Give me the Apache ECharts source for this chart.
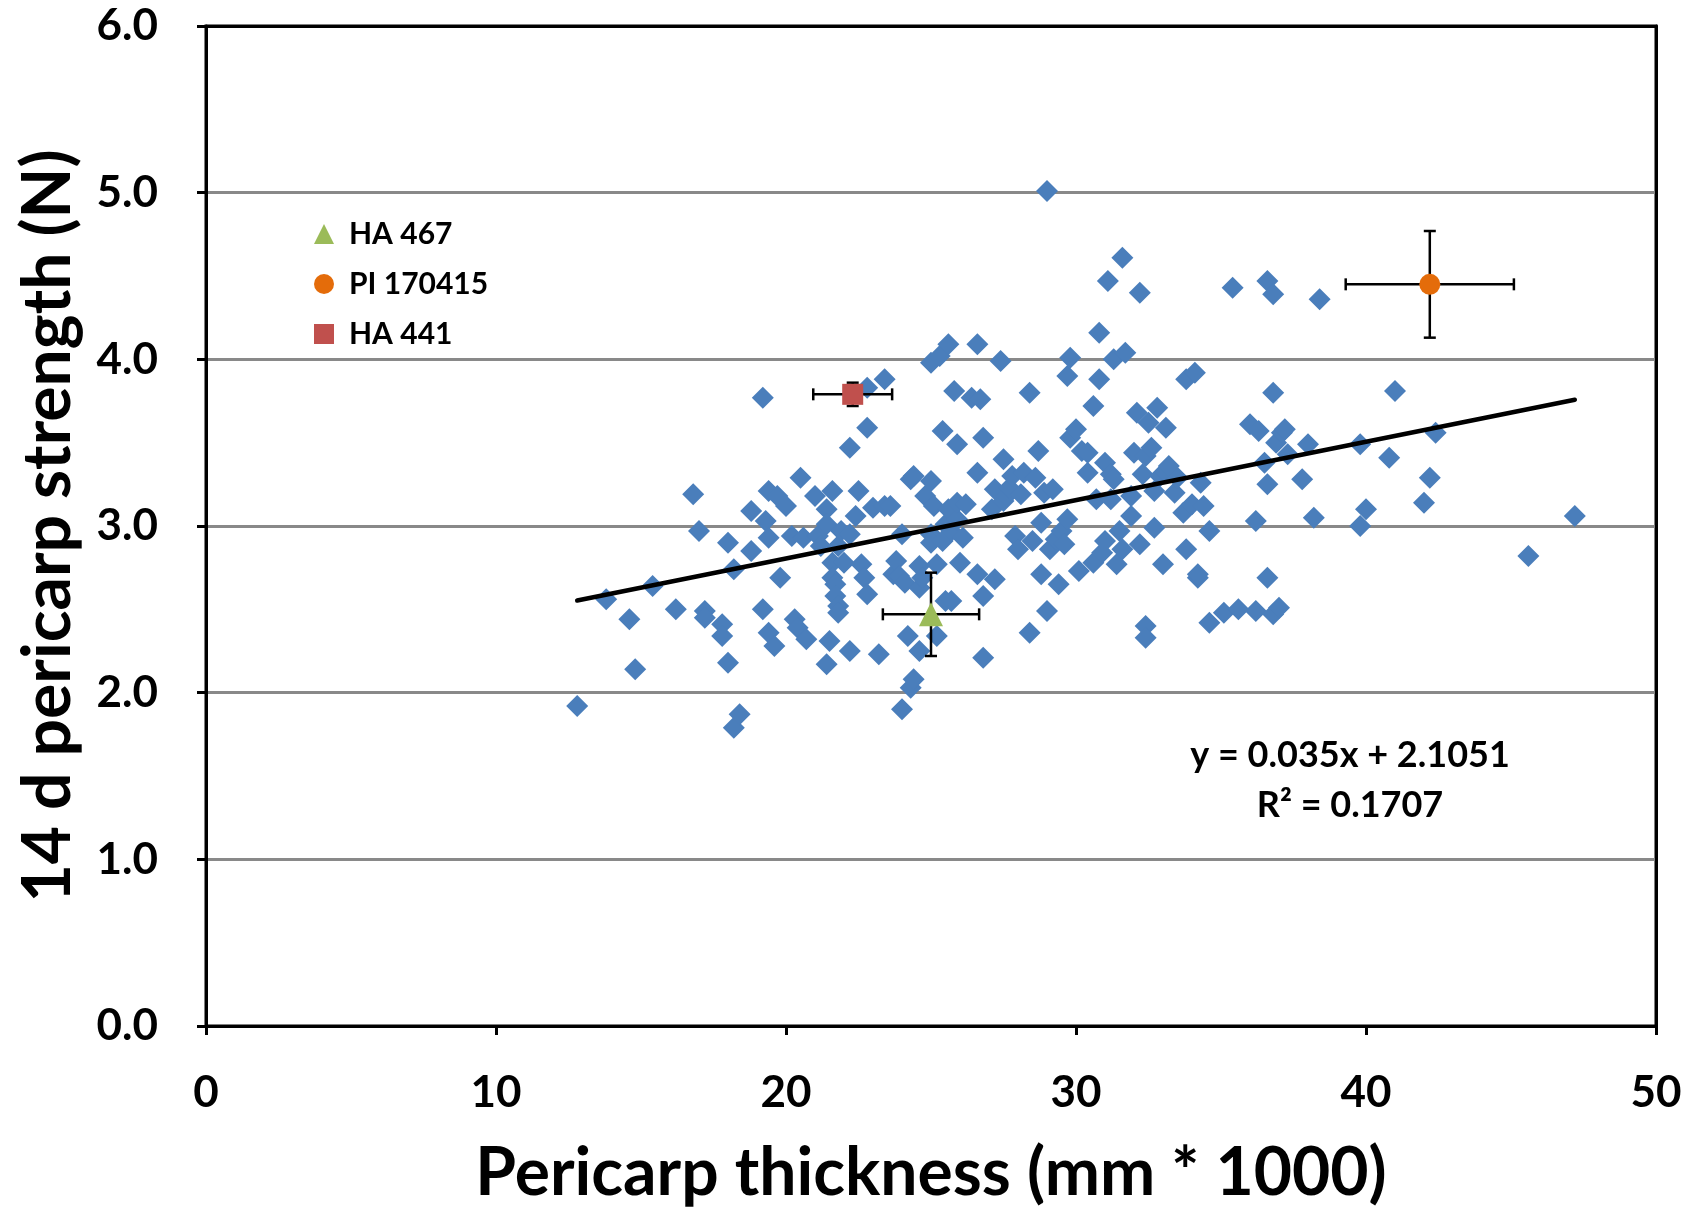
<!DOCTYPE html>
<html>
<head>
<meta charset="utf-8">
<script src="https://cdn.jsdelivr.net/npm/echarts@6/dist/echarts.min.js"></script>
<style>html,body{margin:0;padding:0;background:#fff}#c{width:1697px;height:1209px}</style>
</head>
<body>
<div id="c"></div>
<script>
// Pericarp thickness (mm*1000) and 14 d pericarp strength (N)
const thickness = [12.8,13.8,14.6,14.8,15.4,16.2,16.8,17.0,17.2,17.2,17.8,17.8,18.0,18.0,18.2,18.2,18.4,18.8,18.8,19.2,19.2,19.3,19.4,19.4,19.4,19.6,19.7,19.8,20.0,20.2,20.3,20.4,20.5,20.6,20.7,21.0,21.1,21.2,21.4,21.4,21.4,21.5,21.6,21.6,21.6,21.7,21.7,21.8,21.8,21.8,21.9,22.0,22.2,22.2,22.2,22.4,22.5,22.6,22.7,22.8,22.8,22.8,23.0,23.2,23.4,23.4,23.6,23.7,23.8,23.9,24.0,24.0,24.1,24.2,24.3,24.4,24.3,24.4,24.6,24.6,24.6,24.7,24.8,25.0,25.0,25.0,25.0,25.1,25.2,25.2,25.3,25.4,25.4,25.5,25.5,25.6,25.6,25.7,25.7,25.8,25.9,25.9,25.9,26.0,26.1,26.2,26.4,26.6,26.6,26.6,26.7,26.8,26.8,26.8,27.1,27.2,27.2,27.4,27.5,27.5,27.6,27.7,27.8,27.9,28.0,28.1,28.2,28.4,28.4,28.5,28.6,28.7,28.8,28.8,28.9,29.0,29.0,29.1,29.2,29.3,29.4,29.5,29.6,29.7,29.7,29.8,29.8,30.0,30.1,30.2,30.4,30.4,30.6,30.6,30.7,30.8,30.8,30.9,31.0,31.0,31.1,31.2,31.2,31.3,31.3,31.4,31.5,31.6,31.6,31.7,31.9,31.9,32.0,32.1,32.2,32.2,32.3,32.4,32.4,32.4,32.5,32.6,32.7,32.7,32.8,32.9,33.0,33.1,33.1,33.2,33.4,33.5,33.7,33.8,33.8,34.0,34.1,34.2,34.2,34.3,34.4,34.6,34.6,35.1,35.4,35.6,36.0,36.2,36.2,36.3,36.5,36.6,36.6,36.6,36.8,36.8,36.8,36.9,37.0,37.1,37.2,37.3,37.8,38.0,38.2,38.4,39.8,39.8,40.0,40.8,41.0,42.0,42.2,42.4,45.6,47.2];
const strength = [1.92,2.56,2.44,2.14,2.64,2.50,3.19,2.97,2.49,2.45,2.41,2.34,2.90,2.18,2.74,1.79,1.87,3.09,2.85,3.77,2.50,3.03,3.21,2.93,2.36,2.28,3.18,2.69,3.12,2.94,2.44,2.39,3.29,2.93,2.32,3.18,2.94,2.88,3.10,3.01,2.17,2.31,3.21,2.78,2.69,2.65,2.58,2.52,2.48,2.88,2.97,2.78,3.47,2.95,2.25,3.06,3.21,2.77,2.69,2.59,3.59,3.83,3.11,2.23,3.88,3.12,3.12,2.71,2.79,2.70,1.90,2.95,2.66,2.34,2.03,2.08,3.28,3.30,2.76,2.25,2.63,2.69,3.18,3.27,3.98,2.95,2.90,3.12,2.34,2.77,4.02,3.57,2.91,2.55,3.01,4.09,3.10,2.97,2.55,3.81,3.04,3.49,3.14,2.78,2.93,3.13,3.77,4.09,3.32,2.71,3.76,3.53,2.58,2.21,3.10,2.68,3.22,3.99,3.15,3.40,3.18,3.23,3.30,2.94,2.86,3.19,3.32,3.80,2.36,2.91,3.29,3.45,2.71,3.02,3.20,5.01,2.49,2.86,3.22,2.92,2.65,2.97,2.89,3.04,3.90,4.01,3.53,3.58,2.73,3.45,3.32,3.44,3.72,2.78,3.16,4.16,3.88,2.84,2.91,3.38,4.47,3.16,3.31,4.00,3.28,2.77,2.97,4.61,2.86,4.04,3.18,3.06,3.44,3.68,4.40,2.89,3.31,3.42,2.40,2.33,3.62,3.47,2.99,3.21,3.71,3.30,2.77,3.59,3.32,3.36,3.20,3.29,3.08,2.86,3.88,3.13,3.92,2.69,2.71,3.26,3.12,2.97,2.42,2.48,4.43,2.50,3.61,3.03,2.49,3.57,3.38,4.47,3.25,2.69,4.39,3.80,2.47,3.50,2.51,3.56,3.58,3.43,3.28,3.49,3.05,4.36,3.49,3.00,3.10,3.41,3.81,3.14,3.29,3.56,2.82,3.06];

// Highlighted genotypes: mean and error (x and y)
const specialNames = ['HA 467', 'PI 170415', 'HA 441'];
const specialX = [25.0, 42.2, 22.3];
const specialY = [2.47, 4.45, 3.79];
const specialXErr = [1.66, 2.9, 1.36];
const specialYErr = [0.25, 0.32, 0.07];
const specialColors = ['#9BBB59', '#E46C0A', '#C0504D'];
const specialSymbols = ['triangle', 'circle', 'rect'];

// Linear trendline
const trendSlope = 0.035;
const trendIntercept = 2.1051;
const trendRange = [12.8, 47.2];
const trendEquation = 'y = 0.035x + 2.1051';
const trendR2 = 'R² = 0.1707';

const xTicks = [0, 10, 20, 30, 40, 50];
const yTicks = [0, 1, 2, 3, 4, 5, 6];

const FONT = 'Lato';
const chart = echarts.init(document.getElementById('c'));

const mainData = thickness.map((x, i) => [x, strength[i]]);
const errData = specialX.map((x, i) => [x, specialY[i], specialXErr[i], specialYErr[i]]);

function renderErr(params, api) {
  const x = api.value(0), y = api.value(1), ex = api.value(2), ey = api.value(3);
  const l = api.coord([x - ex, y]), r = api.coord([x + ex, y]);
  const t = api.coord([x, y + ey]), b = api.coord([x, y - ey]);
  const cap = 6;
  const st = { stroke: '#000', lineWidth: 2.5 };
  return {
    type: 'group',
    children: [
      { type: 'line', shape: { x1: l[0], y1: l[1], x2: r[0], y2: r[1] }, style: st },
      { type: 'line', shape: { x1: l[0], y1: l[1] - cap, x2: l[0], y2: l[1] + cap }, style: st },
      { type: 'line', shape: { x1: r[0], y1: r[1] - cap, x2: r[0], y2: r[1] + cap }, style: st },
      { type: 'line', shape: { x1: t[0], y1: t[1], x2: b[0], y2: b[1] }, style: st },
      { type: 'line', shape: { x1: t[0] - cap, y1: t[1], x2: t[0] + cap, y2: t[1] }, style: st },
      { type: 'line', shape: { x1: b[0] - cap, y1: b[1], x2: b[0] + cap, y2: b[1] }, style: st }
    ]
  };
}

const series = [
  {
    name: 'data', type: 'scatter', symbol: 'diamond', symbolSize: 22,
    itemStyle: { color: '#4A7EBB', opacity: 1 }, data: mainData, z: 2, silent: true
  },
  {
    name: 'trend', type: 'line', symbol: 'none', z: 3, silent: true,
    lineStyle: { color: '#000', width: 4.5, cap: 'round' },
    data: trendRange.map(x => [x, trendSlope * x + trendIntercept])
  },
  {
    name: 'err', type: 'custom', renderItem: renderErr, data: errData, z: 4, silent: true
  }
];
specialNames.forEach((n, i) => {
  series.push({
    name: n, type: 'scatter', symbol: specialSymbols[i],
    symbolSize: specialSymbols[i] === 'triangle' ? 24 : 21,
    itemStyle: { color: specialColors[i], opacity: 1 }, z: 5, silent: true,
    data: [[specialX[i], specialY[i]]]
  });
});

const frameAxis = {
  type: 'value', axisLine: { show: true, onZero: false, lineStyle: { color: '#000', width: 3 } },
  axisTick: { show: false }, axisLabel: { show: false }, splitLine: { show: false }
};

chart.setOption({
  animation: false,
  backgroundColor: '#fff',
  textStyle: { fontFamily: FONT },
  grid: { left: 206, right: 41, top: 26, bottom: 183, outerBoundsMode: 'none', containLabel: false,
    show: true, borderColor: '#000', borderWidth: 3, backgroundColor: 'transparent' },
  legend: {
    data: specialNames.map((n, i) => ({ name: n, icon: specialSymbols[i], itemStyle: { opacity: 1 } })),
    orient: 'vertical', left: 309, top: 214, itemWidth: 20, itemHeight: 20, itemGap: 20,
    textStyle: { fontFamily: FONT, fontWeight: 'bold', fontSize: 30, color: '#000', padding: [0, 0, 0, 10] }
  },
  xAxis: [{
    type: 'value', min: 0, max: 50, interval: 10,
    name: 'Pericarp thickness (mm * 1000)', nameLocation: 'middle', nameGap: 115,
    nameTextStyle: { fontFamily: FONT, fontWeight: 'bold', fontSize: 66, color: '#000' },
    axisLine: { show: true, onZero: false, lineStyle: { color: '#000', width: 3 } },
    axisTick: { show: true, inside: false, length: 9, lineStyle: { color: '#000', width: 3 } },
    axisLabel: { margin: 45, fontFamily: FONT, fontWeight: 'bold', fontSize: 44, color: '#000',
      formatter: v => xTicks.includes(v) ? String(v) : '' },
    splitLine: { show: false }
  }, Object.assign({}, frameAxis, { position: 'top', min: 0, max: 50 })],
  yAxis: [{
    type: 'value', min: 0, max: 6, interval: 1,
    name: '14 d pericarp strength (N)', nameLocation: 'middle', nameGap: 124, nameRotate: 90,
    nameTextStyle: { fontFamily: FONT, fontWeight: 'bold', fontSize: 66, color: '#000' },
    axisLine: { show: true, onZero: false, lineStyle: { color: '#000', width: 3 } },
    axisTick: { show: true, inside: false, length: 9, lineStyle: { color: '#000', width: 3 } },
    axisLabel: { margin: 48, fontFamily: FONT, fontWeight: 'bold', fontSize: 44, color: '#000',
      formatter: v => yTicks.includes(v) ? v.toFixed(1) : '' },
    splitLine: { show: true, lineStyle: { color: '#898989', width: 3 } }
  }, Object.assign({}, frameAxis, { position: 'right', min: 0, max: 6 })],
  graphic: [
    { type: 'text', x: 1350, y: 755, style: { text: trendEquation, fontFamily: FONT, fontWeight: 'bold', fontSize: 36, fill: '#000', align: 'center', verticalAlign: 'middle' }, z: 10 },
    { type: 'text', x: 1350, y: 805, style: { text: trendR2, fontFamily: FONT, fontWeight: 'bold', fontSize: 36, fill: '#000', align: 'center', verticalAlign: 'middle' }, z: 10 }
  ],
  series: series
});
</script>
</body>
</html>
